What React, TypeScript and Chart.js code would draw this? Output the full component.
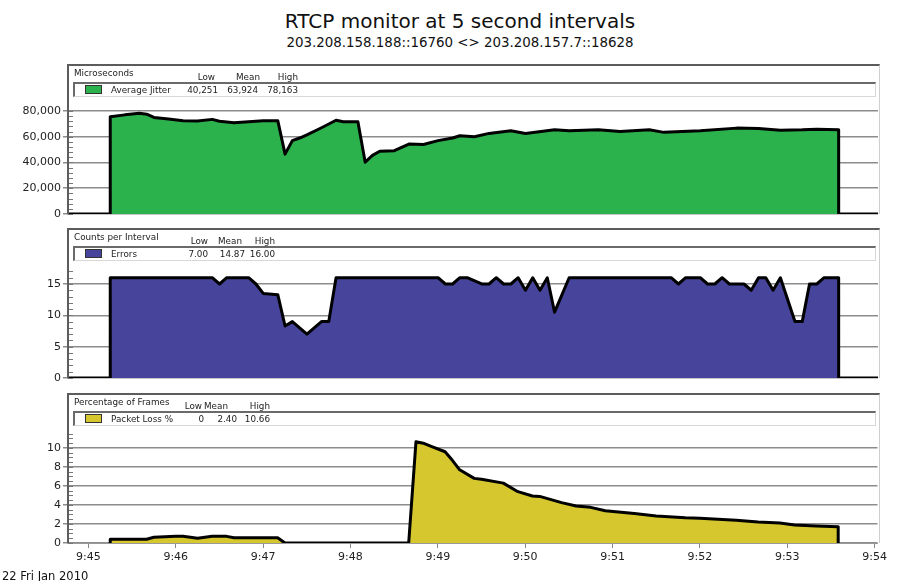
import React, { useEffect, useRef } from 'react';
import { Chart, registerables } from 'chart.js';

Chart.register(...registerables);

const FONT = '"DejaVu Sans", Verdana, sans-serif';

const TITLE = 'RTCP monitor at 5 second intervals';
const SUBTITLE = '203.208.158.188::16760 <> 203.208.157.7::18628';
const DATE_LABEL = '22 Fri Jan 2010';
const STAT_HEADERS = ['Low', 'Mean', 'High'];

// x values are seconds after 9:45:00
const X_MIN = -14;
const X_MAX = 542;
const MINUTE_TICKS = [0, 60, 120, 180, 240, 300, 360, 420, 480, 540];
const MINUTE_LABELS = ['9:45', '9:46', '9:47', '9:48', '9:49', '9:50', '9:51', '9:52', '9:53', '9:54'];

// Panel 1: Average Jitter (microseconds)
const JITTER_UNIT = 'Microseconds';
const JITTER_NAME = 'Average Jitter';
const JITTER_STATS = ['40,251', '63,924', '78,163'];
const JITTER_TICKS = [0, 20000, 40000, 60000, 80000];
const JITTER_T = [-14, 15, 15, 25, 35, 40, 45, 55, 65, 75, 85, 90, 100, 110, 120, 130, 135, 140, 145, 150, 160, 170, 175, 185, 190, 195, 200, 210, 220, 230, 240, 250, 255, 265, 275, 290, 300, 320, 330, 350, 365, 385, 395, 420, 445, 460, 475, 490, 500, 515, 515, 542];
const JITTER_V = [0, 0, 75500, 77000, 78163, 77500, 75000, 73800, 72500, 72300, 73500, 72000, 70800, 71700, 72500, 72500, 46500, 57000, 59000, 61500, 67000, 72800, 71700, 71700, 40251, 45500, 48700, 49200, 54300, 54000, 57000, 59000, 60800, 60000, 62600, 64600, 62600, 65400, 64600, 65400, 64100, 65400, 63400, 64600, 66700, 66400, 65100, 65400, 65900, 65400, 0, 0];

// Panel 2: Errors (counts per interval)
const ERR_UNIT = 'Counts per Interval';
const ERR_NAME = 'Errors';
const ERR_STATS = ['7.00', '14.87', '16.00'];
const ERR_TICKS = [0, 5, 10, 15];
const ERR_T = [-14, 15, 15, 85, 90, 95, 110, 115, 120, 130, 135, 140, 150, 155, 160, 165, 170, 240, 245, 250, 255, 260, 270, 275, 280, 285, 290, 295, 300, 305, 310, 315, 320, 330, 400, 405, 410, 420, 425, 430, 435, 440, 450, 455, 460, 465, 470, 475, 485, 490, 495, 500, 505, 515, 515, 542];
const ERR_V = [0, 0, 16, 16, 15, 16, 16, 15, 13.5, 13.3, 8.3, 9, 7, 8, 9, 9, 16, 16, 15, 15, 16, 16, 15, 15, 16, 15, 15, 16, 14, 16, 14, 16, 10.5, 16, 16, 15, 16, 16, 15, 15, 16, 15, 15, 14, 16, 16, 14, 16, 9, 9, 15, 15, 16, 16, 0, 0];

// Panel 3: Packet Loss % (percentage of frames)
const LOSS_UNIT = 'Percentage of Frames';
const LOSS_NAME = 'Packet Loss %';
const LOSS_STATS = ['0', '2.40', '10.66'];
const LOSS_TICKS = [0, 2, 4, 6, 8, 10];
const LOSS_T = [15, 15, 40, 45, 60, 65, 75, 85, 95, 100, 130, 135, 220, 225, 230, 235, 245, 250, 255, 265, 270, 285, 295, 305, 310, 325, 335, 345, 355, 375, 390, 410, 420, 445, 460, 475, 485, 500, 515, 515];
const LOSS_V = [0, 0.4, 0.4, 0.6, 0.7, 0.7, 0.5, 0.7, 0.7, 0.55, 0.55, 0, 0, 10.66, 10.5, 10.2, 9.6, 8.7, 7.7, 6.8, 6.7, 6.3, 5.4, 4.95, 4.9, 4.25, 3.9, 3.75, 3.4, 3.1, 2.85, 2.65, 2.6, 2.4, 2.2, 2.1, 1.9, 1.8, 1.7, 0];

const minorTickPlugin = {
  id: 'minorTicks',
  afterDatasetsDraw(chart: any, _args: any, opts: any) {
    const { ctx, chartArea, scales } = chart;
    const y = scales.y;
    ctx.save();
    ctx.strokeStyle = '#777';
    ctx.lineWidth = 1;
    for (let v = 0; v <= opts.max + 1e-9; v += opts.step) {
      const py = Math.round(y.getPixelForValue(v)) + 0.5;
      ctx.beginPath();
      ctx.moveTo(chartArea.left, py);
      ctx.lineTo(chartArea.left + 5, py);
      ctx.stroke();
    }
    ctx.restore();
  },
};

type PanelProps = {
  boxTop: number;
  plotBottom: number;
  canvasBottom: number;
  showX: boolean;
  times: number[];
  values: number[];
  fill: string;
  yMax: number;
  yTicks: number[];
  minorStep: number;
  minorMax: number;
  unit: string;
  series: string;
  stats: string[];
  headRight: number[];
  valRight: number[];
};

const small: React.CSSProperties = {
  position: 'absolute',
  fontFamily: FONT,
  fontSize: '8.8px',
  lineHeight: '10px',
  color: '#222',
  whiteSpace: 'nowrap',
};

function Panel(p: PanelProps) {
  const ref = useRef<HTMLCanvasElement>(null);
  const canvasTop = p.boxTop - 5;
  const plotTop = p.boxTop + 34;
  const height = p.canvasBottom - canvasTop;
  const width = 890;

  useEffect(() => {
    const xAxisH = p.showX ? 25 : 0;
    const padBottom = p.canvasBottom - p.plotBottom - xAxisH;
    const chart = new Chart(ref.current as HTMLCanvasElement, {
      type: 'line',
      data: {
        datasets: [
          {
            data: p.times.map((t, i) => ({ x: t, y: p.values[i] })),
            borderColor: '#000',
            borderWidth: 3,
            backgroundColor: p.fill,
            fill: 'origin',
            pointRadius: 0,
            tension: 0,
            borderJoinStyle: 'round',
          },
        ],
      },
      options: {
        animation: false,
        responsive: false,
        maintainAspectRatio: false,
        events: [],
        layout: { padding: { top: plotTop - canvasTop, bottom: padBottom, left: 0, right: width - 878 } },
        plugins: {
          legend: { display: false },
          tooltip: { enabled: false },
          minorTicks: { step: p.minorStep, max: p.minorMax },
        } as any,
        scales: {
          x: {
            type: 'linear',
            min: X_MIN,
            max: X_MAX,
            display: p.showX,
            afterBuildTicks: (s: any) => {
              s.ticks = MINUTE_TICKS.map((v) => ({ value: v }));
            },
            afterFit: (s: any) => {
              s.height = xAxisH;
            },
            ticks: {
              callback: (_v: any, i: number) => MINUTE_LABELS[i],
              font: { family: FONT, size: 11 },
              color: '#222',
              padding: 3,
              maxRotation: 0,
              autoSkip: false,
            },
            grid: { drawOnChartArea: false, tickLength: 5, color: '#888', lineWidth: 1 },
            border: { color: '#999', width: 1 },
          },
          y: {
            min: 0,
            max: p.yMax,
            afterBuildTicks: (s: any) => {
              s.ticks = p.yTicks.map((v) => ({ value: v }));
            },
            afterFit: (s: any) => {
              s.width = 68;
            },
            ticks: {
              callback: (v: any) => Number(v).toLocaleString('en-US'),
              font: { family: FONT, size: 11 },
              color: '#222',
              padding: 2,
            },
            grid: { color: '#8c8c8c', lineWidth: 1.5, tickLength: 5 },
            border: { color: '#555', width: 2 },
          },
        },
      } as any,
      plugins: [minorTickPlugin],
    } as any);
    return () => chart.destroy();
  }, []);

  const B = p.boxTop;
  return (
    <>
      <canvas
        ref={ref}
        width={width}
        height={height}
        style={{ position: 'absolute', left: 0, top: canvasTop, width, height }}
      />
      <div
        style={{
          position: 'absolute',
          left: 67,
          top: B - 1,
          width: 813,
          height: p.plotBottom - B + 1,
          boxSizing: 'border-box',
          borderTop: '2px solid #5c5c5c',
          borderLeft: '2px solid #5c5c5c',
          borderRight: '1px solid #cfcfcf',
        }}
      />
      <div
        style={{
          position: 'absolute',
          left: 73,
          top: B + 17,
          width: 803,
          height: 15,
          boxSizing: 'border-box',
          borderTop: '2px solid #6a6a6a',
          borderLeft: '2px solid #6a6a6a',
          borderBottom: '1px solid #d8d8d8',
          borderRight: '1px solid #d8d8d8',
        }}
      />
      <div style={{ ...small, left: 74, top: B + 3.3 }}>{p.unit}</div>
      {STAT_HEADERS.map((h, i) => (
        <div key={h} style={{ ...small, left: p.headRight[i] - 60, width: 60, textAlign: 'right', top: B + 6.5 }}>
          {h}
        </div>
      ))}
      <div
        style={{
          position: 'absolute',
          left: 85,
          top: B + 20,
          width: 17,
          height: 9,
          boxSizing: 'border-box',
          background: p.fill,
          border: '1px solid #333',
        }}
      />
      <div style={{ ...small, left: 111, top: B + 20.3 }}>{p.series}</div>
      {p.stats.map((s, i) => (
        <div key={i} style={{ ...small, left: p.valRight[i] - 60, width: 60, textAlign: 'right', top: B + 20.3 }}>
          {s}
        </div>
      ))}
    </>
  );
}

export default function App() {
  return (
    <div
      style={{
        position: 'absolute',
        left: 0,
        top: 0,
        width: 901,
        height: 581,
        background: '#fff',
        overflow: 'hidden',
        fontFamily: FONT,
      }}
    >
      <div
        style={{
          position: 'absolute',
          left: 260,
          width: 400,
          top: 9,
          textAlign: 'center',
          fontSize: '20px',
          lineHeight: '24px',
          color: '#111',
          whiteSpace: 'nowrap',
        }}
      >
        {TITLE}
      </div>
      <div
        style={{
          position: 'absolute',
          left: 260,
          width: 400,
          top: 35.4,
          textAlign: 'center',
          fontSize: '13.4px',
          lineHeight: '16px',
          color: '#111',
          whiteSpace: 'nowrap',
        }}
      >
        {SUBTITLE}
      </div>
      <Panel
        boxTop={65}
        plotBottom={214}
        canvasBottom={224}
        showX={false}
        times={JITTER_T}
        values={JITTER_V}
        fill="#2cb24c"
        yMax={89320}
        yTicks={JITTER_TICKS}
        minorStep={4000}
        minorMax={80000}
        unit={JITTER_UNIT}
        series={JITTER_NAME}
        stats={JITTER_STATS}
        headRight={[215, 260, 298]}
        valRight={[218, 258, 298]}
      />
      <Panel
        boxTop={229}
        plotBottom={378}
        canvasBottom={388}
        showX={false}
        times={ERR_T}
        values={ERR_V}
        fill="#46459b"
        yMax={18.35}
        yTicks={ERR_TICKS}
        minorStep={1}
        minorMax={17}
        unit={ERR_UNIT}
        series={ERR_NAME}
        stats={ERR_STATS}
        headRight={[208, 242, 275]}
        valRight={[208, 245, 275]}
      />
      <Panel
        boxTop={394}
        plotBottom={543}
        canvasBottom={581}
        showX={true}
        times={LOSS_T}
        values={LOSS_V}
        fill="#d5c72d"
        yMax={12.1}
        yTicks={LOSS_TICKS}
        minorStep={0.5}
        minorMax={11.5}
        unit={LOSS_UNIT}
        series={LOSS_NAME}
        stats={LOSS_STATS}
        headRight={[202, 228, 270]}
        valRight={[204, 237, 270]}
      />
      <div
        style={{
          position: 'absolute',
          left: 2,
          top: 569.5,
          fontSize: '11.5px',
          lineHeight: '13px',
          color: '#111',
          whiteSpace: 'nowrap',
        }}
      >
        {DATE_LABEL}
      </div>
    </div>
  );
}
